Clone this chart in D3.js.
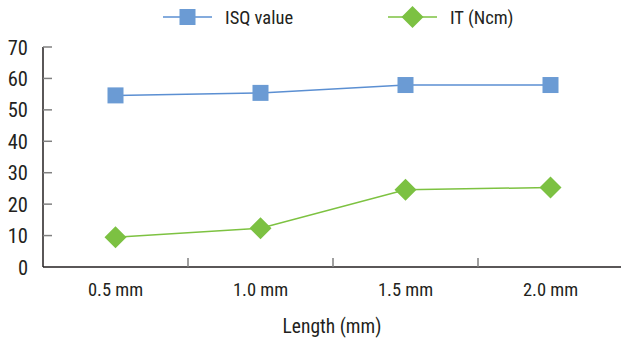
<!DOCTYPE html>
<html><head><meta charset="utf-8">
<script src="https://cdn.jsdelivr.net/npm/d3@7"></script>
<style>body{margin:0;background:#fff}svg{display:block}</style>
</head><body>
<svg id="c" width="621" height="341"></svg>
<script>
const categories = ["0.5 mm","1.0 mm","1.5 mm","2.0 mm"];
const isqValues = [54.6, 55.4, 57.9, 57.9];
const itValues = [9.5, 12.3, 24.6, 25.3];
const yTicks = [0,10,20,30,40,50,60,70];
const seriesNames = ["ISQ value","IT (Ncm)"];

const font = "'Liberation Sans Narrow','Roboto Condensed','Arial Narrow',sans-serif";
const svg = d3.select("#c");
const x = d3.scaleBand().domain(categories).range([43, 623]).padding(0);
const y = d3.scaleLinear().domain([0,70]).range([267, 47]);
const cx = d => x(d) + x.bandwidth()/2;

// y axis
svg.append("line").attr("x1",43).attr("x2",43).attr("y1",y(70)).attr("y2",y(0)).attr("stroke","#231f20").attr("stroke-width",1.5);
svg.selectAll(".yt").data(yTicks.slice(1)).join("line")
  .attr("x1",43).attr("x2",52).attr("y1",d=>y(d)).attr("y2",d=>y(d)).attr("stroke","#808080").attr("stroke-width",1.5);
svg.selectAll(".yl").data(yTicks).join("text")
  .attr("x",28).attr("y",d=>y(d)+7.5).attr("text-anchor","end")
  .attr("font-family",font).attr("font-size",20.5).attr("fill","#231f20").text(d=>d);

// x axis
svg.append("line").attr("x1",43).attr("x2",621).attr("y1",y(0)).attr("y2",y(0)).attr("stroke","#231f20").attr("stroke-width",1.5);
svg.selectAll(".xt").data(categories.slice(1)).join("line")
  .attr("x1",d=>x(d)).attr("x2",d=>x(d)).attr("y1",y(0)).attr("y2",y(0)-9).attr("stroke","#808080").attr("stroke-width",1.5);
svg.selectAll(".xl").data(categories).join("text")
  .attr("x",d=>cx(d)).attr("y",296).attr("text-anchor","middle")
  .attr("font-family",font).attr("font-size",18.5).attr("fill","#231f20").text(d=>d);
svg.append("text").attr("x",332).attr("y",333).attr("text-anchor","middle")
  .attr("font-family",font).attr("font-size",19.5).attr("fill","#231f20").text("Length (mm)");

const line = d3.line().x((d,i)=>cx(categories[i])).y(d=>y(d));
const isqLine = "#5b8fd2", isqFill = "#6b9bd4";
const itLine = "#7dc241", itFill = "#7cc142";

svg.append("path").datum(isqValues).attr("d",line).attr("fill","none").attr("stroke",isqLine).attr("stroke-width",1.5);
svg.append("path").datum(itValues).attr("d",line).attr("fill","none").attr("stroke",itLine).attr("stroke-width",1.5);

const sq = 16, dm = 11;
svg.selectAll(".sq").data(isqValues).join("rect")
  .attr("x",(d,i)=>cx(categories[i])-sq/2).attr("y",d=>y(d)-sq/2).attr("width",sq).attr("height",sq).attr("fill",isqFill);
const diamond = (px,py)=>`M${px},${py-dm}L${px+dm},${py}L${px},${py+dm}L${px-dm},${py}Z`;
svg.selectAll(".dm").data(itValues).join("path")
  .attr("d",(d,i)=>diamond(cx(categories[i]), y(d))).attr("fill",itFill);

// legend
const lg = [{name:seriesNames[0], x:163, c:isqLine, f:isqFill, t:"sq"},{name:seriesNames[1], x:388, c:itLine, f:itFill, t:"dm"}];
lg.forEach(l=>{
  svg.append("line").attr("x1",l.x).attr("x2",l.x+49).attr("y1",17).attr("y2",17).attr("stroke",l.c).attr("stroke-width",1.5);
  const mx = l.x+24.5;
  if(l.t==="sq") svg.append("rect").attr("x",mx-sq/2).attr("y",17-sq/2).attr("width",sq).attr("height",sq).attr("fill",l.f);
  else svg.append("path").attr("d",diamond(mx,17)).attr("fill",l.f);
  svg.append("text").attr("x",l.x+62).attr("y",24).attr("font-family",font).attr("font-size",18.5).attr("fill","#231f20").text(l.name);
});
</script>
</body></html>
